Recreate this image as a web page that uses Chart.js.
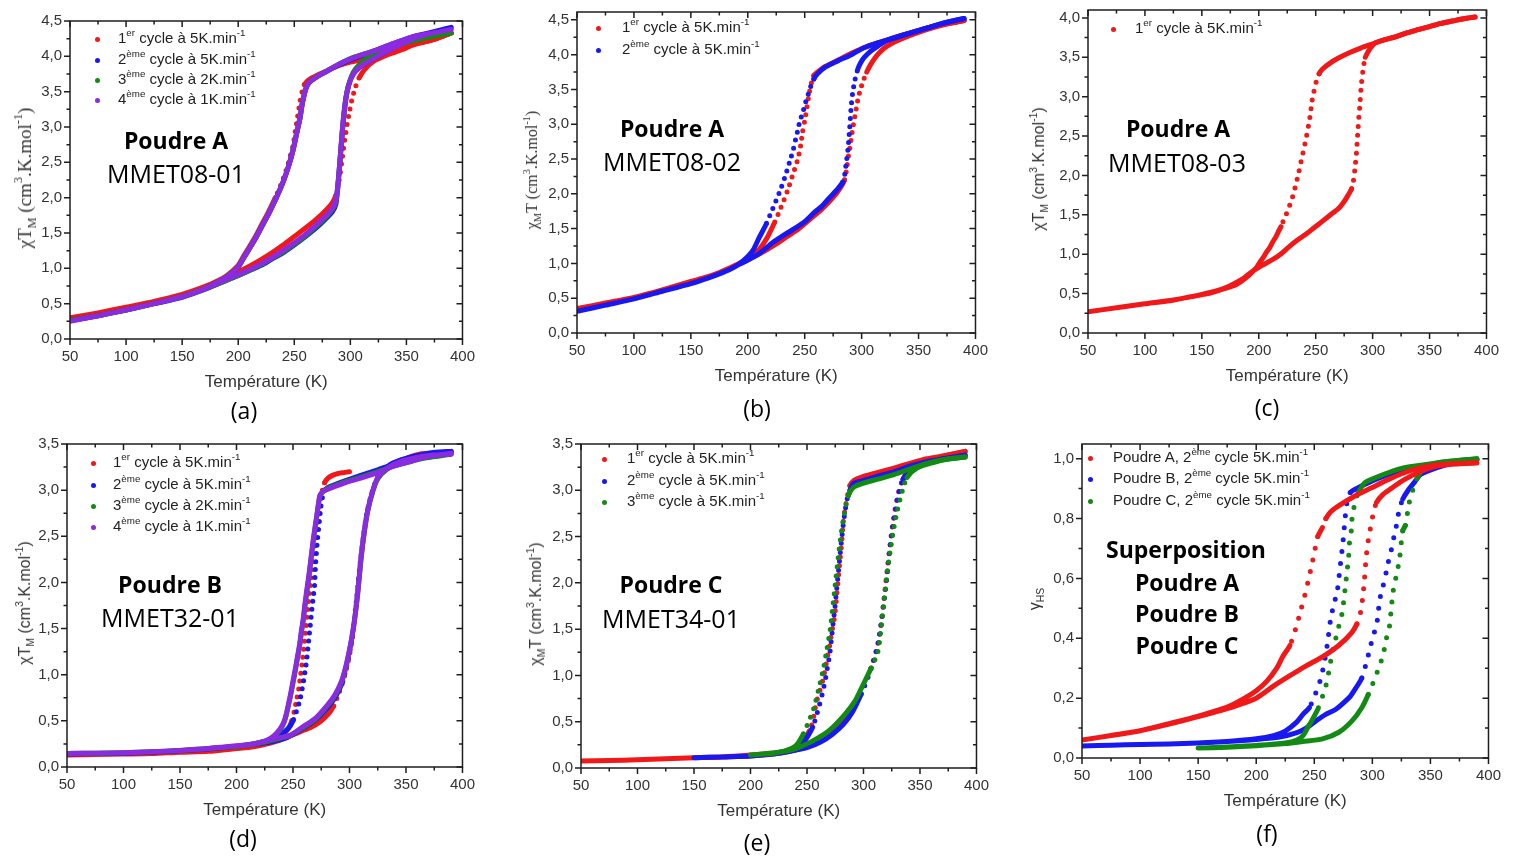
<!DOCTYPE html>
<html>
<head>
<meta charset="utf-8">
<script src="https://cdn.jsdelivr.net/npm/chart.js@4.4.1/dist/chart.umd.min.js"></script>
<style>
  body { margin: 0; background: #fff; width: 1525px; height: 859px; position: relative; overflow: hidden;
         font-family: "Liberation Sans", Arial, sans-serif; }
  canvas { position: absolute; }
  .t { position: absolute; white-space: nowrap; transform: translate(-50%, -50%); line-height: 1; color: #000;
       font-family: "Open Sans", sans-serif; }
  .bold { font-weight: bold; font-size: 23px; }
  .code { font-size: 25px; }
  .lab { font-size: 23px; }
  .leg { position: absolute; white-space: nowrap; font-size: 15px; line-height: 20px; color: #222; }
  .dot { position: absolute; width: 5px; height: 5px; border-radius: 50%; }
  .yt { position: absolute; white-space: nowrap; transform: translate(-50%, -50%) rotate(-90deg);
        color: #333; line-height: 20px; }
  .serif { font-family: "Liberation Serif", "Times New Roman", serif; }
  sup { font-size: 0.65em; vertical-align: 0.7em; line-height: 0; }
  sub { font-size: 0.65em; vertical-align: -0.4em; line-height: 0; }
</style>
</head>
<body>
<script>
const RED = '#f01818', BLUE = '#1818f0', GREEN = '#138a13', PURPLE = '#8a2be2';

// --- (a) Poudre A, MMET08-01 : [T (K), chiT] — cooling then heating
const aCycle1 = [[390,4.33],[380,4.27],[370,4.22],[360,4.18],[350,4.13],[340,4.07],[330,4.02],[320,3.98],[310,3.95],[300,3.92],[290,3.87],[280,3.8],[270,3.73],[263,3.67],[259,3.6],[257,3.5],[255,3.35],[253,3.15],[251,2.95],[249,2.75],[246.5,2.6],[244,2.45],[239,2.22],[233,2.0],[227,1.8],[221,1.62],[215,1.44],[209,1.28],[204,1.15],[200,1.04],[190,0.9],[180,0.81],[170,0.74],[160,0.68],[150,0.63],[125,0.53],[100,0.45],[75,0.37],[50,0.3],
  [75,0.37],[100,0.45],[125,0.53],[150,0.63],[170,0.74],[185,0.84],[200,0.95],[210,1.03],[220,1.12],[230,1.22],[240,1.33],[250,1.45],[260,1.57],[270,1.7],[278,1.82],[284,1.93],[287,2.03],[289,2.15],[291,2.35],[293,2.58],[295,2.82],[297,3.02],[299,3.2],[301,3.36],[304,3.54],[308,3.7],[313,3.82],[320,3.92],[330,4.0],[340,4.06],[350,4.12],[356,4.17],[365,4.2],[375,4.24],[385,4.3],[390,4.33]];
const aCycle2 = [[390,4.41],[380,4.37],[370,4.33],[356,4.28],[340,4.19],[330,4.13],[320,4.07],[310,4.01],[300,3.95],[290,3.88],[280,3.8],[270,3.71],[264,3.64],[261,3.57],[259,3.47],[257,3.32],[255,3.12],[252,2.9],[249,2.68],[245,2.45],[240,2.22],[234,2.0],[228,1.8],[222,1.62],[216,1.44],[210,1.28],[205,1.15],[200,1.02],[190,0.88],[180,0.79],[170,0.71],[160,0.65],[150,0.6],[125,0.5],[100,0.41],[75,0.33],[50,0.26],
  [75,0.33],[100,0.41],[125,0.5],[150,0.59],[170,0.7],[185,0.8],[200,0.9],[210,0.97],[220,1.04],[230,1.13],[240,1.22],[250,1.33],[260,1.45],[270,1.58],[278,1.7],[284,1.8],[287,1.9],[288.5,2.1],[290,2.36],[291.5,2.66],[293,2.96],[294.5,3.2],[296,3.4],[298,3.56],[301,3.7],[305,3.8],[312,3.89],[320,3.96],[330,4.05],[340,4.14],[356,4.26],[370,4.33],[380,4.37],[390,4.41]];
const aCycle3 = [[390,4.33],[380,4.3],[370,4.27],[356,4.23],[340,4.17],[330,4.12],[320,4.07],[310,4.02],[300,3.97],[290,3.89],[280,3.8],[270,3.71],[264,3.64],[261,3.57],[259,3.47],[257,3.32],[255,3.12],[252,2.9],[249,2.68],[245,2.45],[240,2.22],[234,2.0],[228,1.8],[222,1.62],[216,1.44],[210,1.28],[205,1.15],[200,1.02],[190,0.88],[180,0.79],[170,0.71],[160,0.65],[150,0.6],[125,0.5],[100,0.41],[75,0.33],[50,0.26],
  [75,0.33],[100,0.41],[125,0.5],[150,0.6],[170,0.71],[185,0.8],[200,0.9],[210,0.97],[220,1.05],[230,1.14],[240,1.23],[250,1.34],[260,1.46],[270,1.6],[278,1.72],[284,1.83],[287,1.94],[288.5,2.12],[290,2.38],[291.5,2.68],[293,2.98],[294.5,3.22],[296,3.41],[298,3.57],[301,3.72],[305,3.83],[312,3.94],[320,4.03],[330,4.1],[340,4.15],[356,4.22],[370,4.27],[380,4.3],[390,4.33]];
const aCycle4 = [[390,4.38],[380,4.35],[370,4.32],[356,4.28],[340,4.19],[330,4.13],[320,4.07],[310,4.02],[300,3.96],[290,3.89],[280,3.8],[270,3.71],[264,3.64],[261,3.57],[259,3.47],[257,3.32],[255,3.12],[252,2.9],[249,2.68],[245,2.45],[240,2.22],[234,2.0],[228,1.8],[222,1.62],[216,1.44],[210,1.28],[205,1.15],[200,1.02],[190,0.88],[180,0.79],[170,0.71],[160,0.65],[150,0.6],[125,0.5],[100,0.41],[75,0.33],[50,0.25],
  [75,0.33],[100,0.41],[125,0.5],[150,0.6],[170,0.71],[185,0.81],[200,0.91],[210,0.98],[220,1.06],[230,1.15],[240,1.25],[250,1.36],[260,1.48],[270,1.62],[278,1.74],[284,1.85],[287,1.96],[288.5,2.12],[290,2.38],[291.5,2.68],[293,2.98],[294.5,3.22],[296,3.4],[298,3.56],[301,3.7],[305,3.8],[312,3.89],[320,3.96],[330,4.05],[340,4.13],[356,4.25],[370,4.32],[380,4.35],[390,4.38]];

// --- (b) Poudre A, MMET08-02
const bCycle1 = [[390,4.49],[370,4.43],[357,4.38],[342,4.31],[328,4.24],[314,4.17],[302,4.1],[291,4.02],[279,3.92],[268,3.83],[262,3.76],[258,3.7],[256,3.6],[254,3.45],[252,3.25],[250,3.05],[248,2.88],[246.5,2.7],[244,2.5],[240,2.3],[235,2.05],[229,1.8],[223,1.57],[217,1.37],[210,1.2],[203,1.1],[195,1.02],[185,0.94],[175,0.87],[165,0.81],[150,0.74],[125,0.62],[100,0.51],[75,0.43],[50,0.35],
  [75,0.43],[100,0.51],[125,0.62],[150,0.74],[165,0.81],[175,0.87],[185,0.94],[195,1.01],[205,1.09],[215,1.18],[225,1.28],[235,1.39],[245,1.5],[255,1.64],[265,1.78],[275,1.95],[281,2.08],[285,2.2],[287,2.38],[288.5,2.55],[290,2.7],[292,2.92],[295,3.2],[297,3.38],[299.5,3.53],[301.5,3.63],[304.5,3.75],[308,3.86],[314,4.0],[322,4.12],[337,4.24],[357,4.36],[372,4.43],[390,4.49]];
const bCycle2 = [[390,4.52],[371,4.45],[357,4.38],[342,4.31],[328,4.24],[314,4.17],[302,4.1],[291,4.0],[279,3.91],[268,3.82],[261,3.72],[258,3.65],[255,3.53],[252.5,3.4],[250.5,3.3],[248,3.15],[246,3.06],[244,2.92],[242,2.78],[240,2.64],[237.5,2.5],[233,2.26],[228,2.03],[222,1.79],[216,1.56],[210,1.37],[205,1.2],[200,1.1],[193,1.0],[185,0.92],[175,0.85],[165,0.79],[150,0.71],[125,0.6],[100,0.49],[75,0.4],[50,0.31],
  [75,0.4],[100,0.49],[125,0.6],[150,0.71],[165,0.79],[175,0.85],[185,0.92],[193,0.99],[200,1.05],[210,1.14],[222,1.3],[232,1.41],[242,1.51],[250,1.6],[259,1.74],[265,1.82],[271,1.93],[279,2.07],[283.5,2.17],[285,2.26],[286.5,2.45],[288,2.64],[289.4,2.92],[290.8,3.25],[292.2,3.46],[294.3,3.65],[296.6,3.79],[299.4,3.89],[302.3,3.96],[308,4.05],[314,4.12],[322,4.2],[337,4.28],[357,4.38],[371,4.45],[390,4.52]];

// --- (c) Poudre A, MMET08-03
const cCycle1 = [[390,4.01],[380,3.99],[370,3.96],[360,3.93],[350,3.89],[340,3.85],[330,3.81],[320,3.76],[310,3.72],[300,3.67],[290,3.62],[280,3.56],[270,3.49],[262,3.42],[256,3.35],[253,3.29],[251,3.22],[249.5,3.13],[248,3.04],[246.5,2.92],[245.5,2.79],[244,2.66],[242.5,2.54],[241,2.43],[239.5,2.33],[238,2.23],[236.5,2.13],[234.5,2.0],[232.5,1.88],[230.5,1.77],[228.5,1.67],[226,1.58],[224,1.5],[221.5,1.42],[219.5,1.35],[217,1.28],[215,1.22],[212,1.15],[209.5,1.08],[206.5,1.02],[204,0.96],[201,0.9],[198,0.83],[194,0.77],[189.5,0.71],[184,0.65],[178,0.6],[167,0.55],[155,0.5],[140,0.46],[126,0.42],[110,0.39],[100,0.37],[75,0.32],[50,0.27],
  [75,0.32],[100,0.37],[125,0.42],[150,0.49],[170,0.57],[185,0.68],[195,0.79],[203,0.86],[212,0.93],[220,1.01],[227,1.1],[234,1.18],[241,1.25],[248,1.33],[256,1.42],[263,1.5],[270,1.58],[275,1.67],[278.5,1.75],[281.5,1.83],[283,1.92],[284.4,2.08],[285.8,2.29],[287.2,2.6],[288.7,2.88],[290.1,3.15],[291.5,3.33],[292.5,3.43],[293.6,3.5],[296,3.57],[298.8,3.63],[302,3.68],[310,3.72],[320,3.76],[330,3.81],[340,3.85],[350,3.89],[360,3.93],[370,3.96],[380,3.99],[390,4.01]];

// --- (d) Poudre B, MMET32-01
const dCycle1 = [[300,3.2],[295,3.19],[290,3.18],[285,3.16],[281,3.13],[278,3.08],[276,3.0],[274.5,2.9],[273,2.78],[271.5,2.64],[270,2.5],[268.5,2.34],[267,2.17],[265.5,2.0],[264,1.83],[262.5,1.64],[261,1.46],[259.5,1.28],[258,1.12],[256.5,0.98],[255,0.84],[253,0.72],[251,0.6],[249,0.5],[246,0.42],[242,0.36],[236,0.31],[228,0.27],[220,0.24],[210,0.22],[200,0.2],[175,0.17],[150,0.16],[125,0.145],[100,0.14],[75,0.135],[50,0.13],
  [75,0.135],[100,0.14],[125,0.145],[150,0.16],[175,0.17],[200,0.2],[215,0.22],[230,0.26],[240,0.3],[250,0.35],[258,0.39],[266,0.43],[274,0.49],[281,0.57],[286,0.66],[290,0.78],[293,0.88],[296,1.0],[299,1.15],[302,1.35],[304.5,1.58],[307,1.88],[310,2.25],[313,2.55],[316,2.78],[320.5,2.99],[325,3.13],[333,3.24],[345,3.32],[362,3.39],[375,3.4],[390,3.4]];
const dCycle2 = [[390,3.42],[370,3.38],[354,3.33],[339,3.28],[325,3.22],[310,3.16],[296,3.1],[285,3.05],[281,3.03],[278,3.0],[276,2.92],[274.5,2.8],[273,2.62],[271.5,2.44],[270,2.2],[269,1.95],[268,1.85],[266.5,1.68],[265,1.5],[263.5,1.32],[262,1.15],[260,0.98],[258,0.84],[256,0.72],[253,0.6],[250,0.5],[246,0.42],[240,0.36],[234,0.32],[227,0.28],[215,0.25],[200,0.225],[175,0.195],[150,0.175],[125,0.16],[100,0.15],[75,0.145],[50,0.14],
  [75,0.145],[100,0.15],[125,0.16],[150,0.175],[175,0.195],[200,0.225],[215,0.245],[230,0.27],[245,0.32],[258,0.41],[270,0.51],[281,0.65],[288,0.77],[294,0.93],[298,1.12],[301,1.3],[303.5,1.52],[306.5,1.85],[309.5,2.22],[312.5,2.52],[315.5,2.76],[320,2.98],[325,3.14],[334,3.26],[346,3.33],[362,3.38],[376,3.41],[390,3.42]];
const dCycle3 = [[390,3.39],[368,3.35],[354,3.31],[339,3.26],[325,3.2],[310,3.14],[296,3.09],[285,3.04],[281,3.02],[277,2.99],[274,2.94],[272.5,2.84],[271,2.71],[269.5,2.58],[268,2.45],[266.5,2.3],[265,2.15],[263.5,2.0],[262,1.87],[260.5,1.73],[259,1.58],[257.5,1.46],[256,1.32],[254,1.18],[252,1.04],[250,0.91],[248,0.78],[246,0.67],[244,0.56],[242,0.48],[239,0.41],[235,0.35],[231,0.31],[225,0.28],[215,0.25],[200,0.225],[175,0.2],[150,0.18],[125,0.165],[100,0.155],[75,0.15],[50,0.145],
  [75,0.15],[100,0.155],[125,0.165],[150,0.18],[175,0.2],[200,0.225],[215,0.245],[225,0.27],[235,0.3],[247,0.34],[258,0.42],[270,0.52],[281,0.67],[287,0.77],[293,0.92],[297,1.09],[300,1.26],[302,1.39],[304.5,1.59],[307.5,1.9],[310.3,2.26],[313.2,2.55],[316.1,2.77],[320.5,2.98],[324.8,3.12],[333.5,3.23],[345,3.3],[362,3.35],[375,3.37],[390,3.39]];
const dCycle4 = [[390,3.4],[368,3.36],[354,3.31],[339,3.26],[325,3.19],[310,3.13],[296,3.08],[285,3.03],[281,3.01],[277,2.99],[274,2.95],[272.5,2.85],[271,2.72],[269.5,2.6],[268,2.47],[266.5,2.32],[265,2.17],[263.5,2.03],[262,1.9],[260.5,1.76],[259,1.6],[257.5,1.48],[256,1.34],[254,1.2],[252,1.06],[250,0.93],[248,0.8],[246,0.68],[244,0.57],[242,0.49],[239,0.42],[235,0.36],[231,0.32],[225,0.28],[215,0.25],[200,0.23],[175,0.2],[150,0.18],[125,0.165],[100,0.155],[75,0.15],[50,0.145],
  [75,0.15],[100,0.155],[125,0.165],[150,0.18],[175,0.2],[200,0.23],[215,0.25],[225,0.28],[235,0.31],[247,0.34],[258,0.43],[270,0.53],[281,0.68],[287,0.78],[293,0.93],[297,1.1],[300,1.27],[302,1.4],[304.5,1.6],[307.5,1.92],[310.3,2.28],[313.2,2.56],[316.1,2.78],[320.5,2.99],[324.8,3.13],[333.5,3.24],[345,3.31],[362,3.36],[375,3.38],[390,3.39]];

// --- (e) Poudre C, MMET34-01
const eCycle1 = [[390,3.42],[370,3.37],[356,3.34],[341,3.29],[327,3.24],[312,3.19],[300,3.15],[292,3.11],[288,3.05],[286,2.95],[284,2.82],[282,2.65],[280.7,2.43],[279,2.22],[277.5,2.02],[276,1.82],[274.5,1.64],[272,1.47],[270,1.32],[268,1.19],[266.3,1.08],[264,0.95],[261.5,0.84],[259,0.74],[257,0.63],[255,0.5],[252,0.4],[248,0.32],[243,0.25],[237,0.21],[230,0.18],[220,0.16],[200,0.14],[175,0.12],[150,0.11],[125,0.1],[100,0.09],[75,0.08],[50,0.075],
  [75,0.08],[100,0.09],[125,0.1],[150,0.11],[175,0.12],[200,0.13],[220,0.15],[235,0.18],[250,0.23],[262,0.3],[272,0.38],[282,0.5],[290,0.63],[297,0.8],[303,0.97],[308,1.13],[312,1.3],[315,1.5],[317.5,1.75],[319.5,1.98],[321.5,2.2],[323.5,2.4],[325.5,2.6],[328,2.8],[331,2.98],[335,3.12],[340,3.22],[348,3.28],[360,3.33],[375,3.38],[390,3.42]];
const eCycle2 = [[390,3.38],[370,3.34],[356,3.31],[341,3.26],[327,3.2],[312,3.15],[298,3.1],[291,3.07],[288,3.0],[286,2.93],[284,2.8],[282,2.62],[280.5,2.45],[279,2.27],[277.5,2.08],[276,1.9],[274.5,1.71],[273,1.55],[271.5,1.38],[270,1.22],[268,1.08],[266,0.94],[263.5,0.8],[261,0.68],[258,0.55],[255,0.44],[251,0.35],[247,0.28],[242,0.22],[235,0.19],[225,0.16],[210,0.14],[200,0.13],[175,0.12],[150,0.11],
  [175,0.12],[200,0.13],[220,0.15],[235,0.18],[250,0.22],[262,0.28],[272,0.36],[282,0.47],[290,0.6],[298,0.8],[304,0.98],[309,1.16],[313,1.35],[316,1.6],[318.5,1.84],[320.5,2.03],[322,2.22],[324,2.45],[326,2.62],[328.5,2.8],[331,2.96],[335,3.12],[341,3.21],[350,3.27],[362,3.31],[376,3.35],[390,3.38]];
const eCycle3 = [[390,3.36],[370,3.33],[356,3.29],[341,3.23],[327,3.17],[312.6,3.12],[298,3.07],[291,3.03],[286.5,2.94],[283.6,2.78],[280.7,2.57],[277.8,2.29],[274.9,1.97],[272.6,1.72],[270.6,1.5],[267.7,1.29],[264.8,1.09],[260.5,0.86],[256.1,0.65],[251.8,0.51],[246,0.35],[240,0.24],[232,0.19],[220,0.16],[210,0.15],[200,0.14],
  [210,0.15],[225,0.17],[240,0.21],[254.7,0.29],[269.2,0.4],[283.6,0.58],[292.3,0.72],[298.1,0.86],[306.8,1.08],[312.6,1.25],[315.5,1.5],[318.4,1.82],[321.3,2.14],[324.2,2.39],[327,2.6],[329.9,2.78],[334.3,2.99],[338.6,3.14],[347.3,3.24],[361.8,3.3],[376,3.34],[390,3.36]];

// --- (f) gamma_HS, 2nd cycle of each powder
const fPoudreA = [[390,0.986],[370,0.983],[355.7,0.98],[341.6,0.97],[327.5,0.953],[313.5,0.93],[299.4,0.903],[285.3,0.876],[271.2,0.843],[264,0.822],[260,0.8],[257,0.77],[253,0.74],[250,0.684],[247,0.63],[244.4,0.585],[241.6,0.54],[238.8,0.5],[234.6,0.44],[229,0.376],[223,0.34],[217.7,0.3],[209,0.256],[200,0.225],[190,0.2],[175,0.17],[150,0.14],[125,0.115],[100,0.091],[75,0.075],[50,0.06],
  [75,0.075],[100,0.091],[125,0.113],[150,0.138],[175,0.165],[200,0.2],[214.8,0.24],[229,0.275],[243,0.308],[257,0.338],[271,0.376],[282.5,0.42],[286.7,0.448],[289.5,0.48],[291.5,0.53],[293.2,0.596],[294.6,0.667],[296.5,0.728],[298.8,0.777],[300.8,0.816],[303.6,0.854],[309,0.88],[316,0.9],[327.5,0.93],[341.6,0.957],[355.7,0.975],[370,0.982],[390,0.986]];
const fPoudreB = [[390,0.997],[341.6,0.975],[313.5,0.947],[299.4,0.925],[285.3,0.898],[281,0.887],[278.2,0.855],[276.3,0.79],[274.6,0.717],[272.6,0.65],[269.8,0.558],[266.9,0.514],[264.1,0.464],[261.3,0.382],[258.5,0.316],[255.7,0.267],[252.9,0.234],[250.1,0.206],[245.8,0.168],[240.3,0.146],[234.6,0.119],[225,0.09],[215,0.075],[200,0.064],[175,0.055],[150,0.05],[125,0.047],[100,0.045],[75,0.043],[50,0.04],
  [75,0.043],[100,0.045],[125,0.047],[150,0.05],[175,0.055],[200,0.062],[220,0.07],[235,0.085],[243,0.1],[251.5,0.124],[259.9,0.146],[268.3,0.162],[276.8,0.19],[281,0.206],[286,0.235],[290.9,0.267],[295.1,0.322],[297.9,0.366],[300.8,0.41],[303.6,0.442],[306.4,0.53],[309.2,0.574],[311.2,0.607],[313.5,0.651],[316.3,0.695],[318.6,0.739],[320.5,0.772],[323.3,0.832],[326.2,0.865],[330.4,0.892],[336,0.92],[341.6,0.947],[355.7,0.97],[370,0.985],[390,0.997]];
const fPoudreC = [[390,1.0],[355.7,0.986],[327.5,0.97],[313.5,0.953],[299.4,0.931],[293.7,0.92],[289.5,0.898],[286.7,0.876],[283.9,0.832],[282.5,0.8],[281.9,0.76],[280.5,0.728],[279.6,0.673],[278.2,0.623],[276.8,0.574],[275.5,0.53],[274.1,0.486],[271.2,0.442],[268.4,0.398],[265.6,0.355],[262.8,0.294],[259.9,0.24],[255.7,0.19],[252.9,0.162],[248.6,0.13],[244.4,0.102],[240.3,0.075],[235,0.06],[225,0.05],[200,0.042],[175,0.037],[150,0.033],
  [175,0.036],[200,0.041],[225,0.048],[240,0.055],[257.1,0.064],[271.2,0.086],[282.5,0.124],[290.9,0.168],[296.5,0.212],[302.2,0.267],[306.4,0.31],[309.2,0.344],[312,0.398],[314.8,0.442],[317.7,0.552],[320.5,0.607],[323.3,0.662],[326.2,0.76],[328.4,0.777],[331.8,0.854],[334.6,0.892],[338.8,0.936],[344.5,0.97],[355.7,0.986],[390,1.0]];

const xTicksMin = 50, xTicksMax = 400, xStep = 50;

// legend labels
const cycleLabels = ['1<sup>er</sup> cycle à 5K.min<sup>-1</sup>', '2<sup>ème</sup> cycle à 5K.min<sup>-1</sup>',
                     '3<sup>ème</sup> cycle à 2K.min<sup>-1</sup>', '4<sup>ème</sup> cycle à 1K.min<sup>-1</sup>'];
const cycleLabelsC = ['1<sup>er</sup> cycle à 5K.min<sup>-1</sup>', '2<sup>ème</sup> cycle à 5K.min<sup>-1</sup>',
                      '3<sup>ème</sup> cycle à 5K.min<sup>-1</sup>'];
const powderLabels = ['Poudre A, 2<sup>ème</sup> cycle 5K.min<sup>-1</sup>', 'Poudre B, 2<sup>ème</sup> cycle 5K.min<sup>-1</sup>',
                      'Poudre C, 2<sup>ème</sup> cycle 5K.min<sup>-1</sup>'];

const chiT = 'χT<sub>M</sub> (cm<sup>3</sup>.K.mol<sup>-1</sup>)';
const chiMT = 'χ<sub>M</sub>T (cm<sup>3</sup>.K.mol<sup>-1</sup>)';

// panel layout: plot box [left, top, right, bottom] in page px
const panels = [
  { box: [70, 16, 470, 339], yMax: 4.5, yTop: 4.5, yStep: 0.5, yTitle: chiT, serif: true, yTitleDx: 45, yTitleSize: 19, gap: 8,
    series: [[aCycle1, RED, 3, true], [aCycle2, BLUE, 2, false], [aCycle3, GREEN, 1, false], [aCycle4, PURPLE, 0, false]],
    legend: { dotX: 97, textX: 118, rows: [39, 60, 80, 100], colors: [RED, BLUE, GREEN, PURPLE], labels: cycleLabels },
    notes: [['Poudre A', 176, 140, 'bold'], ['MMET08-01', 176, 173, 'code']], tag: ['(a)', 244, 410] },
  { box: [577, 7, 983, 333], yMax: 4.613, yTop: 4.5, yStep: 0.5, yTitle: chiMT, serif: true, yTitleDx: 45, yTitleSize: 16, gap: 8,
    series: [[bCycle1, RED, 1, true], [bCycle2, BLUE, 0, true]],
    legend: { dotX: 598, textX: 622, rows: [28, 50], colors: [RED, BLUE], labels: cycleLabels.slice(0, 2) },
    notes: [['Poudre A', 672, 128, 'bold'], ['MMET08-02', 672, 161, 'code']], tag: ['(b)', 757, 408] },
  { box: [1088, 5, 1494, 333], yMax: 4.1, yTop: 4.0, yStep: 0.5, yTitle: chiT, serif: false, yTitleDx: 49, yTitleSize: 16, gap: 9,
    series: [[cCycle1, RED, 0, true]],
    legend: { dotX: 1113, textX: 1135, rows: [29], colors: [RED], labels: cycleLabels.slice(0, 1) },
    notes: [['Poudre A', 1178, 128, 'bold'], ['MMET08-03', 1177, 162, 'code']], tag: ['(c)', 1267, 407] },
  { box: [67, 439, 470, 767], yMax: 3.5, yTop: 3.5, yStep: 0.5, yTitle: chiT, serif: false, yTitleDx: 42, yTitleSize: 16, gap: 8,
    series: [[dCycle1, RED, 3, true], [dCycle2, BLUE, 2, true], [dCycle3, GREEN, 1, false], [dCycle4, PURPLE, 0, false]],
    legend: { dotX: 93, textX: 113, rows: [463, 485, 506, 527], colors: [RED, BLUE, GREEN, PURPLE], labels: cycleLabels },
    notes: [['Poudre B', 170, 584, 'bold'], ['MMET32-01', 170, 617, 'code']], tag: ['(d)', 243, 838] },
  { box: [581, 439, 984, 768], yMax: 3.5, yTop: 3.5, yStep: 0.5, yTitle: chiMT, serif: false, yTitleDx: 45, yTitleSize: 16, gap: 9,
    series: [[eCycle1, RED, 2, true], [eCycle2, BLUE, 1, true], [eCycle3, GREEN, 0, true]],
    legend: { dotX: 604, textX: 627, rows: [459, 481, 502], colors: [RED, BLUE, GREEN], labels: cycleLabelsC },
    notes: [['Poudre C', 671, 584, 'bold'], ['MMET34-01', 671, 618, 'code']], tag: ['(e)', 757, 842] },
  { box: [1082, 439, 1496, 758], yMax: 1.049, yTop: 1.0, yStep: 0.2, yTitle: 'γ<sub>HS</sub>', serif: false, yTitleDx: 47, yTitleSize: 16, gap: 12,
    series: [[fPoudreA, RED, 0, true], [fPoudreB, BLUE, 2, true], [fPoudreC, GREEN, 1, true]],
    legend: { dotX: 1090, textX: 1113, rows: [458, 479, 501], colors: [RED, BLUE, GREEN], labels: powderLabels },
    notes: [['Superposition', 1186, 549, 'bold'], ['Poudre A', 1187, 582, 'bold'], ['Poudre B', 1187, 613, 'bold'], ['Poudre C', 1187, 645, 'bold']],
    tag: ['(f)', 1267, 833] }
];

Chart.defaults.font.family = '"Liberation Sans", Arial, sans-serif';
Chart.defaults.color = '#333';

// Origin-like frame: box plus major/minor ticks (outward left/bottom, inward top/right)
const framePlugin = {
  id: 'frame',
  afterDatasetsDraw(chart, args, opts) {
    const { ctx, chartArea: a, scales: { x, y } } = chart;
    ctx.save();
    ctx.strokeStyle = '#1e1e1e';
    ctx.lineWidth = 1.5;
    ctx.strokeRect(a.left, a.top, a.right - a.left, a.bottom - a.top);
    ctx.beginPath();
    for (let i = 0; i <= (xTicksMax - xTicksMin) / (xStep / 2); i++) {
      const px = x.getPixelForValue(xTicksMin + i * xStep / 2);
      const len = i % 2 === 0 ? 6 : 3.5;
      ctx.moveTo(px, a.bottom); ctx.lineTo(px, a.bottom + len);
      ctx.moveTo(px, a.top); ctx.lineTo(px, a.top + len);
    }
    const n = Math.round(opts.yTop / (opts.yStep / 2));
    for (let i = 0; i <= n; i++) {
      const py = y.getPixelForValue(i * opts.yStep / 2);
      const len = i % 2 === 0 ? 6 : 3.5;
      ctx.moveTo(a.left, py); ctx.lineTo(a.left - len, py);
      ctx.moveTo(a.right, py); ctx.lineTo(a.right - len, py);
    }
    ctx.stroke();
    ctx.restore();
  }
};

// steep parts of a sweep show separated measurement points
const steep = ctx => {
  const dx = Math.abs(ctx.p1.x - ctx.p0.x), dy = Math.abs(ctx.p1.y - ctx.p0.y);
  return dy > 5 && dy > 2.2 * dx;
};

function makePanel(p) {
  const [l, t, r, b] = p.box;
  const cv = document.createElement('canvas');
  cv.width = r - l + 65 + 14;
  cv.height = b - t + 12 + 60;
  cv.style.left = (l - 65) + 'px';
  cv.style.top = (t - 12) + 'px';
  document.body.appendChild(cv);

  new Chart(cv, {
    type: 'scatter',
    data: {
      datasets: p.series.map(([pts, color, order, dotted]) => ({
        data: pts.map(([x, y]) => ({ x, y })),
        showLine: true,
        borderColor: color,
        backgroundColor: color,
        borderWidth: 5,
        borderCapStyle: 'round',
        borderJoinStyle: 'round',
        pointRadius: 0,
        tension: 0.25,
        order: order,
        segment: dotted ? { borderDash: c => steep(c) ? [0, p.gap] : undefined } : {}
      }))
    },
    options: {
      responsive: false,
      animation: false,
      devicePixelRatio: 1,
      layout: { padding: { left: 0, top: 12, right: 14, bottom: 0 } },
      plugins: {
        legend: { display: false },
        tooltip: { enabled: false },
        frame: { yStep: p.yStep, yTop: p.yTop }
      },
      scales: {
        x: {
          type: 'linear', min: xTicksMin, max: xTicksMax,
          afterFit: s => { s.height = 60; },
          grid: { display: false, drawTicks: false },
          border: { display: false },
          ticks: { stepSize: xStep, padding: 9, maxRotation: 0, autoSkip: false, color: '#333', font: { size: 15 } },
          title: { display: true, text: 'Température (K)', color: '#333', font: { size: 17 }, padding: { top: 0, bottom: 6 } }
        },
        y: {
          type: 'linear', min: 0, max: p.yMax,
          afterFit: s => { s.width = 65; },
          grid: { display: false, drawTicks: false },
          border: { display: false },
          ticks: { stepSize: p.yStep, includeBounds: false, padding: 8, color: '#333', font: { size: 15 },
                   callback: v => v.toFixed(1).replace('.', ',') }
        }
      }
    },
    plugins: [framePlugin]
  });

  // y-axis title (with sub/superscripts)
  const yt = document.createElement('div');
  yt.className = 'yt' + (p.serif ? ' serif' : '');
  yt.style.left = (l - p.yTitleDx) + 'px';
  yt.style.top = ((t + b) / 2) + 'px';
  yt.style.fontSize = p.yTitleSize + 'px';
  yt.innerHTML = p.yTitle;
  document.body.appendChild(yt);

  // legend
  p.legend.rows.forEach((ry, i) => {
    const d = document.createElement('div');
    d.className = 'dot';
    d.style.left = (p.legend.dotX - 2.5) + 'px';
    d.style.top = (ry - 2.5) + 'px';
    d.style.background = p.legend.colors[i];
    document.body.appendChild(d);
    const tx = document.createElement('div');
    tx.className = 'leg';
    tx.style.left = p.legend.textX + 'px';
    tx.style.top = (ry - 11) + 'px';
    tx.innerHTML = p.legend.labels[i];
    document.body.appendChild(tx);
  });

  // sample annotations
  p.notes.forEach(([txt, cx, cy, cls]) => {
    const n = document.createElement('div');
    n.className = 't ' + cls;
    n.style.left = cx + 'px';
    n.style.top = cy + 'px';
    n.textContent = txt;
    document.body.appendChild(n);
  });

  const tag = document.createElement('div');
  tag.className = 't lab';
  tag.style.left = p.tag[1] + 'px';
  tag.style.top = p.tag[2] + 'px';
  tag.textContent = p.tag[0];
  document.body.appendChild(tag);
}

panels.forEach(makePanel);
</script>
</body>
</html>
